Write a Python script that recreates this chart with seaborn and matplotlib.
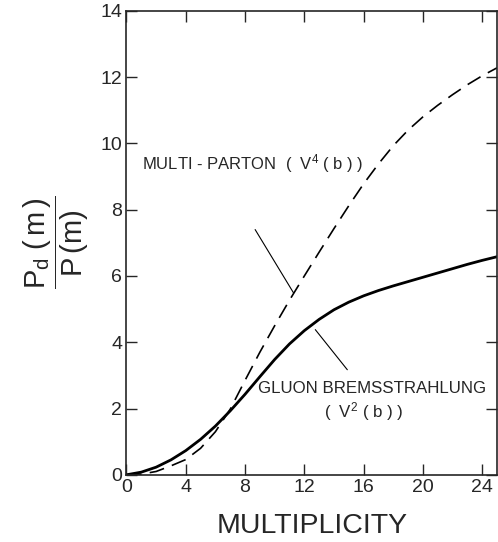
import numpy as np
import pandas as pd
import seaborn as sns
import matplotlib.pyplot as plt

# values
multiplicity = [0, 1, 2, 3, 4, 5, 6, 7, 8, 9, 10, 11, 12,
                13, 14, 15, 16, 17, 18, 19, 20, 21, 22, 23, 24, 25]
gluon_brems = [0.0, 0.08, 0.23, 0.45, 0.73, 1.07, 1.47, 1.93, 2.43, 2.96,
               3.48, 3.95, 4.35, 4.69, 4.98, 5.21, 5.4, 5.56, 5.7, 5.83,
               5.96, 6.09, 6.22, 6.35, 6.47, 6.58]
multi_parton = [0.0, 0.02, 0.1, 0.27, 0.46, 0.8, 1.3, 1.98, 2.85, 3.7,
                4.5, 5.27, 6.0, 6.72, 7.43, 8.12, 8.78, 9.38, 9.93, 10.4,
                10.8, 11.15, 11.47, 11.77, 12.04, 12.28]

# leader lines from the labels to the curves
multi_leader_x = [8.68, 11.27]
multi_leader_y = [7.4, 5.49]
gluon_leader_x = [12.74, 14.9]
gluon_leader_y = [4.38, 3.17]

x_ticks = [0, 4, 8, 12, 16, 20, 24]
y_ticks = [0, 2, 4, 6, 8, 10, 12, 14]

df = pd.DataFrame({'m': multiplicity, 'gluon': gluon_brems, 'parton': multi_parton})

sns.set_style('ticks')
plt.rcParams['font.family'] = ['Liberation Sans', 'DejaVu Sans']
plt.rcParams['mathtext.fontset'] = 'custom'
plt.rcParams['mathtext.rm'] = 'Liberation Sans'
plt.rcParams['mathtext.it'] = 'Liberation Sans'

fig = plt.figure(figsize=(4.98, 5.42), dpi=100)
ax = fig.add_axes([0.254, 0.124, 0.744, 0.856])

sns.lineplot(data=df, x='m', y='gluon', ax=ax, color='black', linewidth=2.0)
sns.lineplot(data=df, x='m', y='parton', ax=ax, color='black', linewidth=1.2)
ax.lines[-1].set_dashes([9, 5])

ax.plot(multi_leader_x, multi_leader_y, color='black', linewidth=0.8)
ax.plot(gluon_leader_x, gluon_leader_y, color='black', linewidth=0.8)

ax.text(1.05, 9.4, 'MULTI - PARTON  (  V$^4$ ( b ) )', fontsize=12, va='center')
ax.text(8.9, 2.6, 'GLUON BREMSSTRAHLUNG', fontsize=12.2, va='center')
ax.text(16.0, 1.9, '(  V$^2$ ( b ) )', fontsize=12.2, va='center', ha='center')

ax.set_xlim(0, 25)
ax.set_ylim(0, 14)
ax.set_xticks(x_ticks)
ax.set_yticks(y_ticks)
ax.tick_params(direction='in', length=8, width=1, labelsize=14,
               top=True, right=True, pad=3)
for s in ax.spines.values():
    s.set_linewidth(1.2)

ax.set_xlabel('MULTIPLICITY', fontsize=20.5, labelpad=12)
ax.set_ylabel('')
fig.text(0.114, 0.553, r'$\dfrac{P_d\ (\,m\,)}{P\,(m)}$', fontsize=21,
         rotation=90, ha='center', va='center')

fig.savefig('out.png', dpi=100)
